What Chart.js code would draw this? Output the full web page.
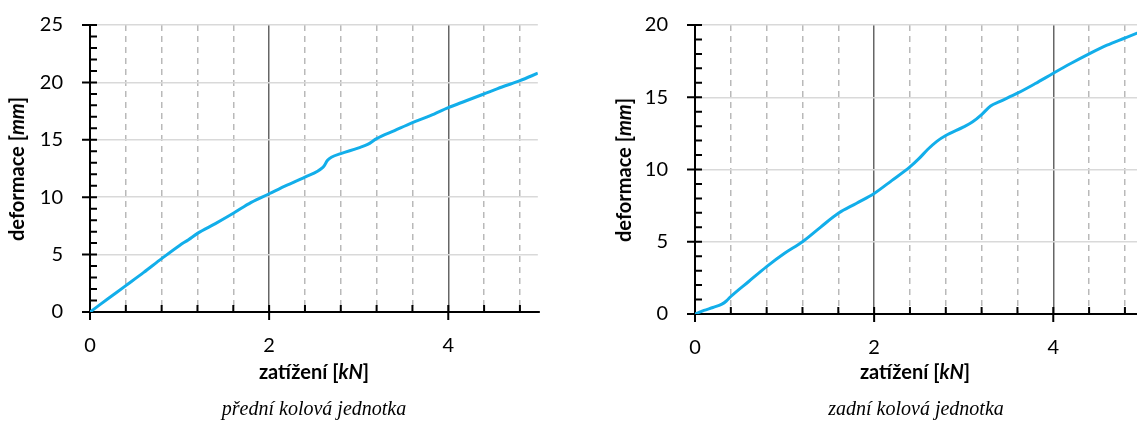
<!DOCTYPE html>
<html><head><meta charset="utf-8">
<script src="https://cdn.jsdelivr.net/npm/chart.js@4.4.0/dist/chart.umd.min.js"></script>
<style>
html,body{margin:0;padding:0;background:#fff;overflow:hidden;width:1137px;height:423px;position:relative;}
.wrap{position:absolute;top:-14px;height:437px;width:542px;}
.ytitle{position:absolute;font:bold 20px Lato, sans-serif;white-space:nowrap;transform:translate(-50%,-50%) rotate(-90deg);color:#000;}
.xtitle{position:absolute;font:bold 20px Lato, sans-serif;transform:translate(-50%,-50%);white-space:nowrap;color:#000;}
.cap{position:absolute;font:italic 20px "Liberation Serif", serif;transform:translate(-50%,-50%);white-space:nowrap;color:#000;}
</style>
</head><body>
<div class="wrap" style="left:0"><canvas id="c1" width="542" height="437"></canvas></div>
<div class="wrap" style="left:605px"><canvas id="c2" width="542" height="437"></canvas></div>
<div class="ytitle" style="left:16px;top:169px">deformace [<i>mm</i>]</div>
<div class="ytitle" style="left:623px;top:170px">deformace [<i>mm</i>]</div>
<div class="xtitle" style="left:314px;top:371px">zatížení [<i>kN</i>]</div>
<div class="xtitle" style="left:915px;top:371px">zatížení [<i>kN</i>]</div>
<div class="cap" style="left:314px;top:408px">přední kolová jednotka</div>
<div class="cap" style="left:916px;top:408px">zadní kolová jednotka</div>
<script>
// ---- data ----
const frontLoad   = [0, 0.2, 0.4, 0.6, 0.8, 1.0, 1.1, 1.2, 1.4, 1.6, 1.8, 2.0, 2.2, 2.4, 2.6, 2.62, 2.65, 2.7, 2.8, 3.0, 3.1, 3.2, 3.4, 3.6, 3.8, 4.0, 4.2, 4.4, 4.6, 4.8, 5.0];
const frontDeform = [0, 1.15, 2.3, 3.45, 4.65, 5.8, 6.3, 6.85, 7.7, 8.6, 9.55, 10.3, 11.05, 11.75, 12.6, 12.8, 13.2, 13.5, 13.8, 14.3, 14.6, 15.1, 15.8, 16.5, 17.1, 17.8, 18.4, 19.0, 19.6, 20.15, 20.8];
const rearLoad    = [0, 0.1, 0.2, 0.3, 0.35, 0.4, 0.6, 0.8, 1.0, 1.2, 1.4, 1.6, 1.8, 2.0, 2.2, 2.4, 2.5, 2.6, 2.7, 2.8, 3.0, 3.1, 3.2, 3.3, 3.4, 3.6, 3.8, 4.0, 4.2, 4.4, 4.6, 4.8, 5.0];
const rearDeform  = [0, 0.25, 0.45, 0.68, 0.9, 1.21, 2.25, 3.28, 4.2, 5.0, 6.0, 6.97, 7.65, 8.34, 9.25, 10.18, 10.75, 11.4, 11.95, 12.35, 12.95, 13.3, 13.8, 14.4, 14.7, 15.28, 15.95, 16.66, 17.35, 18.0, 18.6, 19.1, 19.6];
const xTickValues = [0, 0.4, 0.8, 1.2, 1.6, 2, 2.4, 2.8, 3.2, 3.6, 4, 4.4, 4.8];
const xLabelValues = [0, 2, 4];
const frontYMax = 25;
const rearYMax = 20;

const isMajor = v => xLabelValues.some(m => Math.abs(m - v) < 1e-6);

const axesPlugin = {
  id: 'axesDraw',
  beforeDatasetsDraw(chart) {
    const {ctx, chartArea: a, scales: {x, y}} = chart;
    const x0 = x.getPixelForValue(0), y0 = y.getPixelForValue(0);
    ctx.save();
    ctx.strokeStyle = '#000';
    ctx.lineWidth = 2;
    ctx.beginPath();
    ctx.moveTo(x0, y.getPixelForValue(y.max));
    ctx.lineTo(x0, y0);
    ctx.moveTo(x0, y0);
    ctx.lineTo(a.right + 2, y0);
    for (let v = 0; v <= y.max; v += 1) {
      const py = y.getPixelForValue(v);
      if (v % 5 === 0) { ctx.moveTo(x0 - 8, py); ctx.lineTo(x0 + 7, py); }
      else { ctx.moveTo(x0, py); ctx.lineTo(x0 + 7, py); }
    }
    xTickValues.forEach(v => {
      const px = x.getPixelForValue(v);
      if (isMajor(v)) { ctx.moveTo(px, y0 - 7); ctx.lineTo(px, y0 + 8); }
      else { ctx.moveTo(px, y0 - 7); ctx.lineTo(px, y0); }
    });
    ctx.stroke();
    ctx.restore();
  }
};

function makeChart(id, load, deform, yMax, xAxisHeight) {
  const pts = load.map((v, i) => ({x: v, y: deform[i]}));
  return new Chart(document.getElementById(id), {
    type: 'line',
    data: { datasets: [{ data: pts, borderColor: '#12aeea', borderWidth: 3, pointRadius: 0, cubicInterpolationMode: 'monotone', fill: false }] },
    options: {
      responsive: false, animation: false, events: [],
      layout: { padding: { top: 10, right: 2, left: 0, bottom: 0 } },
      plugins: { legend: { display: false }, tooltip: { enabled: false } },
      scales: {
        x: {
          type: 'linear', min: 0, max: 5,
          afterBuildTicks: s => { s.ticks = xTickValues.map(v => ({value: v})); },
          afterFit: s => { s.height = xAxisHeight; },
          grid: { color: c => (c.tick && isMajor(c.tick.value)) ? '#666666' : '#b9b9b9', lineWidth: 1.5, drawTicks: false },
          border: { display: false, dash: c => (c.type === 'tick' && c.tick && !isMajor(c.tick.value)) ? [6, 5] : [] },
          ticks: { padding: 22, autoSkip: false, maxRotation: 0, color: '#000', font: { family: 'Lato', size: 20 },
                   callback: v => isMajor(v) ? String(Math.round(v)) : '' }
        },
        y: {
          min: 0, max: yMax,
          afterFit: s => { s.width = 90; },
          grid: { color: '#d9d9d9', lineWidth: 1.5, drawTicks: false },
          border: { display: false },
          ticks: { stepSize: 5, padding: 27, color: '#000', font: { family: 'Lato', size: 20 } }
        }
      }
    },
    plugins: [axesPlugin]
  });
}

makeChart('c1', frontLoad, frontDeform, frontYMax, 111);
makeChart('c2', rearLoad, rearDeform, rearYMax, 109);
</script>
</body></html>
